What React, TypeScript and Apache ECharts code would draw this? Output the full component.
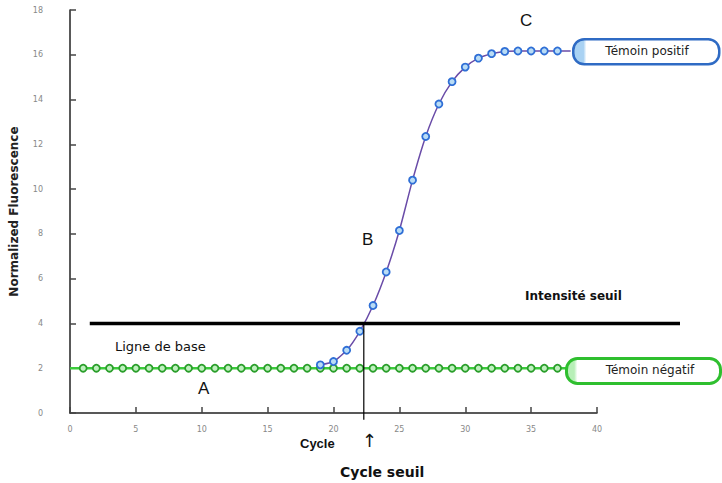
import React, { useEffect, useRef } from "react";
import * as echarts from "echarts";

const cyclesNeg = [0, 1, 2, 3, 4, 5, 6, 7, 8, 9, 10, 11, 12, 13, 14, 15, 16, 17, 18, 19, 20, 21, 22, 23, 24, 25, 26, 27, 28, 29, 30, 31, 32, 33, 34, 35, 36, 37, 38, 39, 40];
const valuesNeg = [2, 2, 2, 2, 2, 2, 2, 2, 2, 2, 2, 2, 2, 2, 2, 2, 2, 2, 2, 2, 2, 2, 2, 2, 2, 2, 2, 2, 2, 2, 2, 2, 2, 2, 2, 2, 2, 2, 2, 2, 2];
const cyclesPos = [19, 20, 21, 22, 23, 24, 25, 26, 27, 28, 29, 30, 31, 32, 33, 34, 35, 36, 37, 38];
const valuesPos = [2.15, 2.3, 2.8, 3.65, 4.8, 6.3, 8.15, 10.4, 12.35, 13.8, 14.8, 15.45, 15.85, 16.05, 16.15, 16.17, 16.17, 16.17, 16.17, 16.17];
const thresholdValue = 4;
const thresholdCycle = 22.3;
const thresholdSpan = [1.5, 46.3];
const yTicks = { min: 0, max: 18, interval: 2 };
const xTicks = { min: 0, max: 40, interval: 5 };

export default function App() {
  const ref = useRef<HTMLDivElement>(null);
  useEffect(() => {
    if (!ref.current) return;
    const chart = echarts.init(ref.current, null, { renderer: "svg" });
    const font = "Liberation Sans";
    const dv = "DejaVu Sans";
    const negData = cyclesNeg.map((c, i) => ({
      value: [c, valuesNeg[i]],
      symbolSize: c === 0 ? 0 : 7,
    }));
    const posData = cyclesPos.map((c, i) => ({
      value: [c, valuesPos[i]],
      symbolSize: i === cyclesPos.length - 1 ? 0 : 7,
    }));
    chart.setOption({
      animation: false,
      backgroundColor: "#ffffff",
      grid: { left: 70, top: 10, right: 125, bottom: 70 },
      xAxis: {
        type: "value",
        min: xTicks.min,
        max: xTicks.max,
        interval: xTicks.interval,
        axisLine: { lineStyle: { color: "#222", width: 1.5 } },
        axisTick: { inside: true, length: 6, lineStyle: { color: "#444", width: 1.5 } },
        axisLabel: { color: "#888", fontSize: 8, margin: 12, fontFamily: dv },
        splitLine: { show: false },
      },
      yAxis: {
        type: "value",
        min: yTicks.min,
        max: yTicks.max,
        interval: yTicks.interval,
        name: "Normalized Fluorescence",
        nameLocation: "middle",
        nameGap: 50,
        nameTextStyle: { fontWeight: "bold", fontSize: 12, color: "#222", fontFamily: dv },
        axisLine: { show: true, lineStyle: { color: "#222", width: 1.5 } },
        axisTick: { show: true, inside: true, length: 6, lineStyle: { color: "#444", width: 1.5 } },
        axisLabel: { color: "#888", fontSize: 8, margin: 27, fontFamily: dv },
        splitLine: { show: false },
      },
      series: [
        {
          type: "line",
          name: "Témoin négatif",
          data: negData,
          symbol: "circle",
          lineStyle: { color: "#3ccc3c", width: 2.5 },
          itemStyle: { color: "#bff0bf", borderColor: "#2a9e2a", borderWidth: 1.8 },
          z: 3,
        },
        {
          type: "line",
          name: "Témoin positif",
          data: posData,
          symbol: "circle",
          smooth: 0.2,
          lineStyle: { color: "#6a4ca8", width: 1.5 },
          itemStyle: { color: "#b9dcf5", borderColor: "#2f6fd6", borderWidth: 1.8 },
          z: 4,
        },
        {
          type: "line",
          data: [
            [thresholdCycle, thresholdValue],
            [thresholdCycle, -0.3],
          ],
          symbol: "none",
          clip: false,
          lineStyle: { color: "#000", width: 1.2 },
          z: 5,
        },
      ],
    });
    const p1 = chart.convertToPixel({ gridIndex: 0 }, [thresholdSpan[0], thresholdValue]) as number[];
    const p2 = chart.convertToPixel({ gridIndex: 0 }, [thresholdSpan[1], thresholdValue]) as number[];
    chart.setOption({
      graphic: [
        {
          type: "line",
          shape: { x1: p1[0], y1: p1[1], x2: p2[0], y2: p2[1] },
          style: { stroke: "#000", lineWidth: 3.5 },
          z: 6,
        },
        {
          type: "rect",
          left: 572,
          top: 38,
          shape: { width: 146, height: 25, r: 11 },
          style: {
            fill: new echarts.graphic.LinearGradient(0, 0, 1, 0, [
              { offset: 0, color: "#a9d2f3" },
              { offset: 0.07, color: "#a9d2f3" },
              { offset: 0.09, color: "#ffffff" },
              { offset: 1, color: "#ffffff" },
            ]),
            stroke: "#2f6bc4",
            lineWidth: 2.5,
          },
          z: 10,
        },
        {
          type: "text",
          x: 647,
          y: 51,
          style: { text: "Témoin positif", font: `12px "${dv}"`, fill: "#222", align: "center", verticalAlign: "middle" },
          z: 11,
        },
        {
          type: "rect",
          left: 565,
          top: 357,
          shape: { width: 154, height: 25, r: 11 },
          style: {
            fill: new echarts.graphic.LinearGradient(0, 0, 1, 0, [
              { offset: 0, color: "#b7efb7" },
              { offset: 0.05, color: "#b7efb7" },
              { offset: 0.07, color: "#ffffff" },
              { offset: 1, color: "#ffffff" },
            ]),
            stroke: "#2fbf2f",
            lineWidth: 3,
          },
          z: 10,
        },
        {
          type: "text",
          x: 650,
          y: 370,
          style: { text: "Témoin négatif", font: `12px "${dv}"`, fill: "#222", align: "center", verticalAlign: "middle" },
          z: 11,
        },
        { type: "text", left: 520, top: 12, style: { text: "C", font: `17px "${font}"`, fill: "#111" } },
        { type: "text", left: 362, top: 231, style: { text: "B", font: `17px "${font}"`, fill: "#111" } },
        { type: "text", left: 198, top: 380, style: { text: "A", font: `17px "${font}"`, fill: "#111" } },
        { type: "text", left: 115, top: 340, style: { text: "Ligne de base", font: `13px "${dv}"`, fill: "#111" } },
        { type: "text", left: 525, top: 290, style: { text: "Intensité seuil", font: `bold 12px "${dv}"`, fill: "#111" } },
        { type: "text", left: 300, top: 437, style: { text: "Cycle", font: `bold 13px "${font}"`, fill: "#111" } },
        { type: "text", left: 362, top: 431, style: { text: "↑", font: `18px "${dv}"`, fill: "#111" } },
        { type: "text", left: 340, top: 465, style: { text: "Cycle seuil", font: `bold 14px "${dv}"`, fill: "#111" } },
      ],
    });
    return () => chart.dispose();
  }, []);
  return <div ref={ref} style={{ position: "fixed", left: 0, top: 0, width: 722, height: 483 }} />;
}
